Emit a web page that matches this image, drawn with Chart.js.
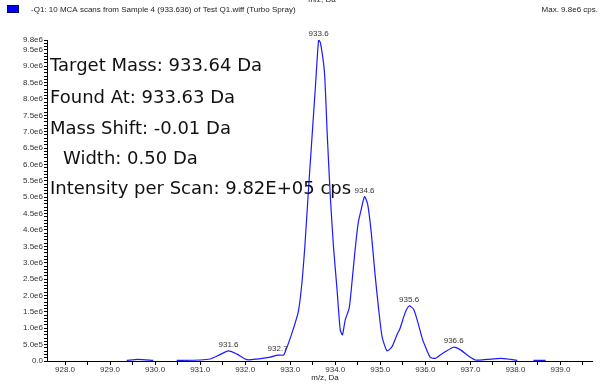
<!DOCTYPE html>
<html>
<head>
<meta charset="utf-8">
<script src="https://cdn.jsdelivr.net/npm/chart.js@4"></script>
<style>
  html, body { margin: 0; padding: 0; background: #fff; }
  #wrap { width: 602px; height: 385px; }
</style>
</head>
<body>
<div id="wrap"><canvas id="spectrum" width="602" height="385"></canvas></div>
<script>
// profile of the scan: m/z (Da) and intensity (cps); null marks a gap in acquisition
const mzValues = [
  929.37, 929.62, 929.96, 930.2,
  930.48, 931.0, 931.22, 931.42, 931.63, 931.82, 932.04, 932.26, 932.56, 932.72, 932.85,
  932.89, 933.04, 933.18, 933.26, 933.33, 933.41, 933.48, 933.56, 933.63, 933.67,
  933.76, 933.82, 933.89, 933.96, 934.04, 934.11, 934.16, 934.22, 934.31, 934.37,
  934.44, 934.51, 934.58, 934.65, 934.72, 934.8, 934.88, 934.96, 935.04, 935.15,
  935.26, 935.37, 935.44, 935.55, 935.64, 935.74, 935.84, 935.93, 936.0, 936.11,
  936.22, 936.33, 936.44, 936.63, 936.78, 936.96, 937.11, 937.37, 937.67, 937.89,
  938.04, 938.2,
  938.4, 938.67
];
const intensities = [
  0.02e6, 0.05e6, 0.02e6, null,
  0.02e6, 0.03e6, 0.06e6, 0.18e6, 0.31e6, 0.21e6, 0.04e6, 0.06e6, 0.12e6, 0.18e6, 0.18e6,
  0.28e6, 0.86e6, 1.51e6, 2.39e6, 3.61e6, 5.33e6, 6.76e6, 8.39e6, 9.80e6, 9.72e6,
  8.81e6, 6.97e6, 5.02e6, 3.50e6, 2.17e6, 0.95e6, 0.80e6, 1.25e6, 1.62e6, 2.39e6,
  3.39e6, 4.22e6, 4.65e6, 5.02e6, 4.78e6, 3.91e6, 2.69e6, 1.62e6, 0.74e6, 0.31e6,
  0.44e6, 0.80e6, 1.00e6, 1.47e6, 1.68e6, 1.58e6, 1.15e6, 0.69e6, 0.44e6, 0.11e6,
  0.08e6, 0.18e6, 0.28e6, 0.42e6, 0.34e6, 0.15e6, 0.03e6, 0.05e6, 0.08e6, 0.05e6,
  0.02e6, null,
  0.02e6, 0.02e6
];

// centroids that get a label above the trace
const peakMz = [931.63, 932.72, 933.63, 934.65, 935.64, 936.63];

const xTicks = [928, 928.5, 929, 929.5, 930, 930.5, 931, 931.5, 932, 932.5, 933, 933.5,
  934, 934.5, 935, 935.5, 936, 936.5, 937, 937.5, 938, 938.5, 939, 939.5];
const yTopTick = 9.8e6;

const infoLines = [
  { text: 'Target Mass: 933.64 Da', x: 50, y: 66 },
  { text: 'Found At: 933.63 Da', x: 50, y: 98 },
  { text: 'Mass Shift: -0.01 Da', x: 50, y: 129 },
  { text: 'Width: 0.50 Da', x: 63, y: 159 },
  { text: 'Intensity per Scan: 9.82E+05 cps', x: 50, y: 189 }
];

const points = mzValues.map((mz, i) => ({ x: mz, y: intensities[i] }));

function sciLabel(v) {
  if (v === 0) return '0.0';
  return v.toExponential(1).replace('e+', 'e');
}

const annotations = {
  id: 'annotations',
  afterDraw(chart) {
    const ctx = chart.ctx;
    const xs = chart.scales.x, ys = chart.scales.y;
    ctx.save();

    // header: series swatch, description, max intensity
    ctx.fillStyle = '#0000ff';
    ctx.fillRect(7, 5, 12, 8);
    ctx.strokeStyle = '#000066';
    ctx.lineWidth = 1;
    ctx.strokeRect(7.5, 5.5, 11, 7);
    ctx.fillStyle = '#222';
    ctx.font = '8px "Liberation Sans", Arial, sans-serif';
    ctx.textBaseline = 'middle';
    ctx.textAlign = 'left';
    ctx.fillText('-Q1: 10 MCA scans from Sample 4 (933.636) of Test Q1.wiff (Turbo Spray)', 31, 10);
    ctx.textAlign = 'right';
    ctx.fillText('Max. 9.8e6 cps.', 598, 10);
    ctx.textAlign = 'center';
    ctx.fillText('m/z, Da', 322, 0);
    ctx.fillText('m/z, Da', 325, 378);

    // peak labels
    ctx.fillStyle = '#333';
    ctx.textBaseline = 'bottom';
    peakMz.forEach(mz => {
      const p = points.find(pt => pt.x === mz);
      const label = (Math.floor(mz * 10 + 1e-6) / 10).toFixed(1);
      ctx.fillText(label, xs.getPixelForValue(p.x), ys.getPixelForValue(p.y) - 2);
    });

    // summary block
    ctx.fillStyle = '#111';
    ctx.font = '18px "DejaVu Sans", Verdana, sans-serif';
    ctx.textAlign = 'left';
    ctx.textBaseline = 'middle';
    infoLines.forEach(l => ctx.fillText(l.text, l.x, l.y));
    ctx.restore();
  }
};

new Chart(document.getElementById('spectrum'), {
  type: 'line',
  data: {
    datasets: [{
      data: points,
      borderColor: '#1a1aff',
      borderWidth: 1.2,
      pointRadius: 0,
      tension: 0.2,
      spanGaps: false,
      fill: false
    }]
  },
  options: {
    responsive: false,
    animation: false,
    devicePixelRatio: 1,
    layout: { padding: { left: 0, top: 40, right: 10, bottom: 0 } },
    plugins: { legend: { display: false }, tooltip: { enabled: false } },
    scales: {
      x: {
        type: 'linear',
        min: 927.6,
        max: 939.7,
        afterBuildTicks(scale) { scale.ticks = xTicks.map(v => ({ value: v })); },
        afterFit(scale) { scale.height = 24; },
        border: { display: true, color: '#000', width: 1 },
        grid: { drawOnChartArea: false, tickLength: 4, color: '#000', tickColor: '#000' },
        ticks: {
          autoSkip: false,
          maxRotation: 0,
          padding: 0,
          color: '#333',
          font: { family: '"Liberation Sans", Arial, sans-serif', size: 8 },
          callback: v => (Math.abs(v - Math.round(v)) < 1e-6 ? v.toFixed(1) : '')
        }
      },
      y: {
        type: 'linear',
        min: 0,
        max: yTopTick,
        afterBuildTicks(scale) {
          const t = [];
          for (let i = 0; i <= 98; i++) t.push({ value: i * 1e5 });
          scale.ticks = t;
        },
        afterFit(scale) { scale.width = 47; },
        border: { display: true, color: '#000', width: 1 },
        grid: { drawOnChartArea: false, tickLength: 3, color: '#000', tickColor: '#000' },
        ticks: {
          autoSkip: false,
          padding: 1,
          color: '#333',
          font: { family: '"Liberation Sans", Arial, sans-serif', size: 8 },
          callback: v => {
            const n = Math.round(v / 1e5);
            if (n % 5 === 0) return sciLabel(n * 1e5);
            if (n === 98) return sciLabel(yTopTick);
            return '';
          }
        }
      }
    }
  },
  plugins: [annotations]
});
</script>
</body>
</html>
